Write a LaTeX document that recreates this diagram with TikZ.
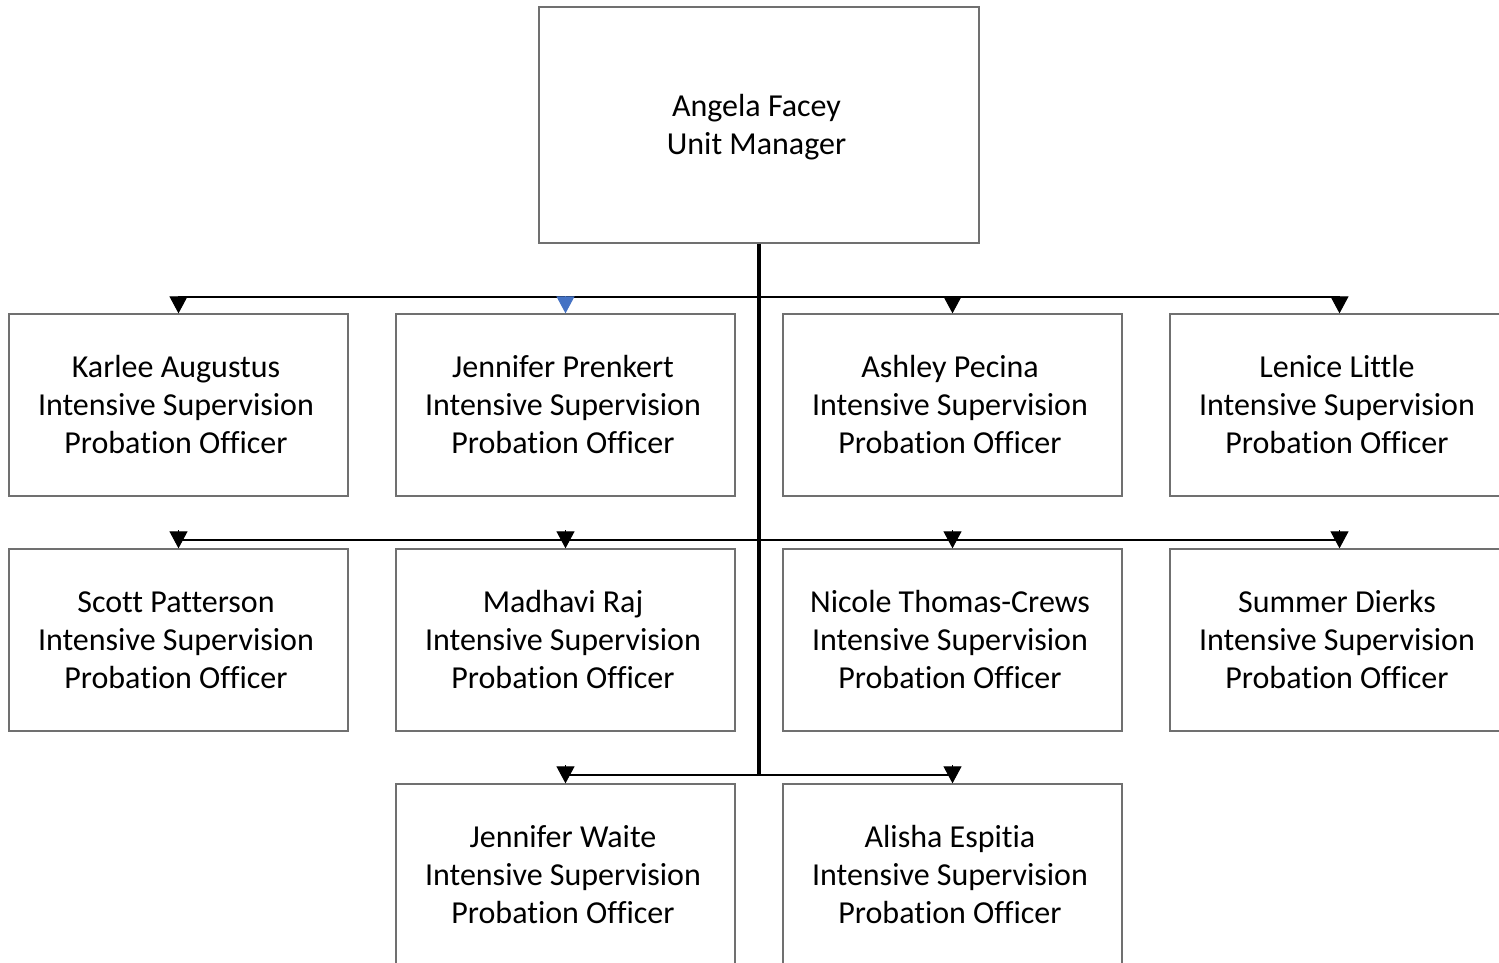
\documentclass[tikz,border=0pt]{standalone}
\usepackage{fontspec}
\setmainfont{Carlito}[Ligatures=NoCommon]
\usetikzlibrary{arrows.meta}
\definecolor{boxgray}{HTML}{707070}
\definecolor{tipblue}{HTML}{4472C4}
\newcommand\ptext[1]{\raisebox{-3pt}[\height][\depth]{\kern-5pt\begin{tabular}{@{}c@{}}#1\end{tabular}}}
\tikzset{
  person/.style={draw=boxgray, line width=1.3pt, minimum width=339pt, minimum height=182pt,
    inner sep=0pt, font=\fontsize{32}{38}\selectfont, text=black},
  boss/.style={person, minimum width=440pt, minimum height=236pt},
  trunk/.style={line width=3.5pt, black},
  bus/.style={line width=2.8pt, black},
  tip/.style={line width=1pt, -{Triangle[width=18pt,length=17pt]}, shorten >=0pt},
}
\begin{document}
\begin{tikzpicture}[x=1pt,y=-1pt]
\clip (0,0) rectangle (1499,963);
\fill[white] (0,0) rectangle (1499,963);

\node[boss] (mgr) at (759,125) {\ptext{Angela Facey\\Unit Manager}};

\node[person] (ka) at (178.5,405) {\ptext{Karlee Augustus\\Intensive Supervision\\Probation Officer}};
\node[person] (jp) at (565.5,405) {\ptext{Jennifer Prenkert\\Intensive Supervision\\Probation Officer}};
\node[person] (ap) at (952.5,405) {\ptext{Ashley Pecina\\Intensive Supervision\\Probation Officer}};
\node[person] (ll) at (1339.5,405) {\ptext{Lenice Little\\Intensive Supervision\\Probation Officer}};

\node[person] (sp) at (178.5,640) {\ptext{Scott Patterson\\Intensive Supervision\\Probation Officer}};
\node[person] (mr) at (565.5,640) {\ptext{Madhavi Raj\\Intensive Supervision\\Probation Officer}};
\node[person] (nt) at (952.5,640) {\ptext{Nicole Thomas-Crews\\Intensive Supervision\\Probation Officer}};
\node[person] (sd) at (1339.5,640) {\ptext{Summer Dierks\\Intensive Supervision\\Probation Officer}};

\node[person] (jw) at (565.5,875) {\ptext{Jennifer Waite\\Intensive Supervision\\Probation Officer}};
\node[person] (ae) at (952.5,875) {\ptext{Alisha Espitia\\Intensive Supervision\\Probation Officer}};

% bus levels
\coordinate (bus1) at (759,297);
\coordinate (bus2) at (759,540);
\coordinate (bus3) at (759,775);

% trunk
\draw[trunk] (mgr.south) -- (bus3);

% horizontal buses
\draw[bus] (ka.north |- bus1) -- (ll.north |- bus1);
\draw[bus] (sp.north |- bus2) -- (sd.north |- bus2);
\draw[bus] (jw.north |- bus3) -- (ae.north |- bus3);

% arrow tips
\draw[tip] ([yshift=17pt]ka.north) -- (ka.north);
\draw[tip, tipblue] ([yshift=17pt]jp.north) -- (jp.north);
\draw[tip] ([yshift=17pt]ap.north) -- (ap.north);
\draw[tip] ([yshift=17pt]ll.north) -- (ll.north);

\draw[tip] ([yshift=18pt]sp.north) -- (sp.north);
\draw[tip] ([yshift=18pt]mr.north) -- (mr.north);
\draw[tip] ([yshift=18pt]nt.north) -- (nt.north);
\draw[tip] ([yshift=18pt]sd.north) -- (sd.north);

\draw[tip] ([yshift=18pt]jw.north) -- (jw.north);
\draw[tip] ([yshift=18pt]ae.north) -- (ae.north);
\end{tikzpicture}
\end{document}
